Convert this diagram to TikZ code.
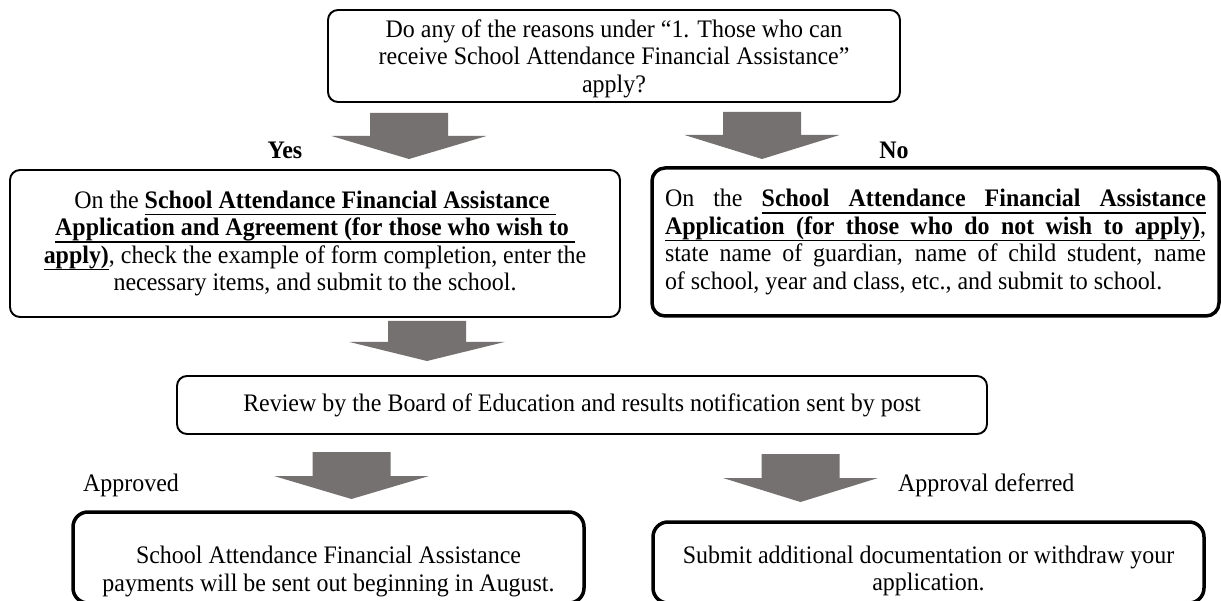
\documentclass[tikz,border=0pt]{standalone}
\usepackage{fontspec}
\setmainfont{Liberation Serif}[FakeStretch=0.95]
\definecolor{arrowgray}{HTML}{767171}
\newcommand\mainfs{\fontsize{25.2}{27.5}\selectfont}
\newdimen\uldp \uldp=7pt
\newdimen\ulth \ulth=1.5pt
% underlined word / run (no stretching inside)
\newcommand\ulw[1]{\setbox0\hbox{#1}\rlap{\rule[-\uldp]{\wd0}{\ulth}}\box0}
% underlined stretchable space
\newcommand\uls{\leaders\hrule height \dimexpr\ulth-\uldp\relax depth \uldp\hskip 0.25em plus 1fil\relax}
% justified line
\newcommand\jline[1]{\hbox to 541pt{\spaceskip=0.25em plus 1fil\relax #1}}
\newcommand\blockarrow[4]{%
  \fill[arrowgray] (#1-39,#2) -- (#1+39,#2) -- (#1+39,#3) -- (#1+77.5,#3)
    -- (#1,#4) -- (#1-77.5,#3) -- (#1-39,#3) -- cycle;}
\begin{document}
\begin{tikzpicture}[x=1pt,y=-1pt,
  thinbox/.style={draw=black, line width=1.9pt, rounded corners=10pt, inner sep=0pt, align=center, font=\mainfs},
  thickbox/.style={draw=black, line width=3.5pt, rounded corners=13pt, inner sep=0pt, align=center, font=\mainfs},
  txt/.style={inner sep=0pt, align=center, font=\mainfs},
  lbl/.style={inner sep=0pt, font=\mainfs}]
\useasboundingbox[fill=white] (0,0) rectangle (1221,601);

% boxes
\node[thinbox, minimum width=572pt, minimum height=92pt] (q) at (614,56) {};
\node[txt] (qtext) at (614,58.5) {Do any of the reasons under “1. Those who can\\ receive School Attendance Financial Assistance”\\ apply?};

\node[thinbox, minimum width=610pt, minimum height=147pt] (yesbox) at (315,243.5)
 {On the \ulw{\textbf{School Attendance Financial Assistance\ }}\\
  \ulw{\textbf{Application and Agreement (for those who wish to\ }}\\
  \ulw{\textbf{apply)}}, check the example of form completion, enter the\\
  necessary items, and submit to the school.};

\node[thickbox, minimum width=567pt, minimum height=148pt] (nobox) at (935.5,242)
 {\parbox{541pt}{%
  \jline{On the \ulw{\textbf{School}}\uls\ulw{\textbf{Attendance}}\uls\ulw{\textbf{Financial}}\uls\ulw{\textbf{Assistance}}}
  \jline{\ulw{\textbf{Application}}\uls\ulw{\textbf{(for}}\uls\ulw{\textbf{those}}\uls\ulw{\textbf{who}}\uls\ulw{\textbf{do}}\uls\ulw{\textbf{not}}\uls\ulw{\textbf{wish}}\uls\ulw{\textbf{to}}\uls\ulw{\textbf{apply)}},}
  \jline{state name of guardian, name of child student, name}
  \noindent of school, year and class, etc., and submit to school.}};

\node[thinbox, minimum width=810pt, minimum height=58pt] (review) at (582,405)
 {Review by the Board of Education and results notification sent by post};

\node[thickbox, rounded corners=15pt, minimum width=511pt, minimum height=91pt] (approved) at (328.5,557.5) {};
\node[txt] (approvedtext) at (328.5,571.5) {School Attendance Financial Assistance\\ payments will be sent out beginning in August.};

\node[thickbox, rounded corners=15pt, minimum width=551pt, minimum height=81pt] (deferred) at (928.5,562.5) {};
\node[txt] (deferredtext) at (928.5,571) {Submit additional documentation or withdraw your\\ application.};

% labels
\node[lbl, anchor=base, font=\mainfs\bfseries] (yes) at (285,159) {Yes};
\node[lbl, anchor=base, font=\mainfs\bfseries] (no) at (894,159) {No};
\node[lbl, anchor=base west] (approvedlbl) at (83,491) {Approved};
\node[lbl, anchor=base west] (deferredlbl) at (898,491) {Approval deferred};

% block arrows
\blockarrow{409}{113}{136}{159}
\blockarrow{762}{112}{135}{159}
\blockarrow{427}{321}{342}{361}
\blockarrow{351.5}{452}{476}{499}
\blockarrow{800.5}{454}{478}{502}
\end{tikzpicture}
\end{document}
